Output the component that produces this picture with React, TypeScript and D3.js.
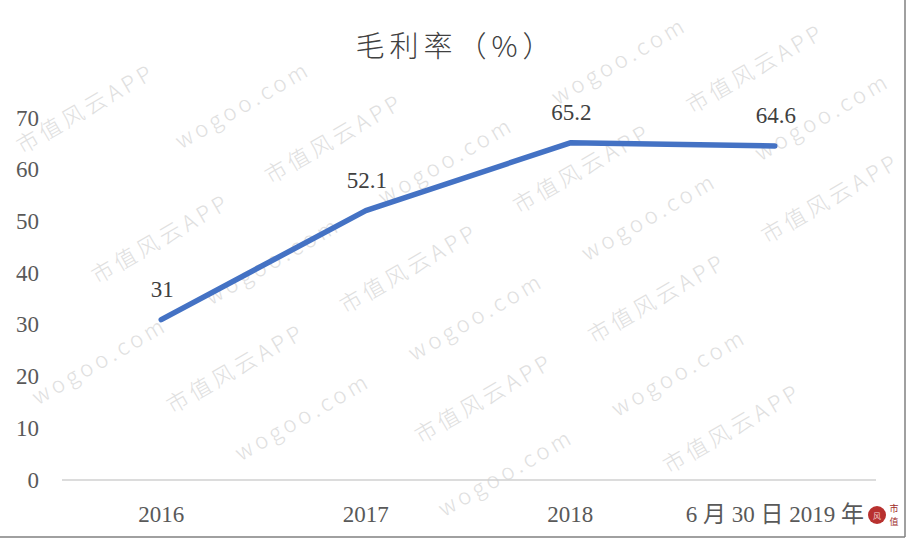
import React from "react";
import * as d3 from "d3";

const title = "毛利率（%）";
const categories = ["2016", "2017", "2018", "6 月 30 日 2019 年"];
const values = [31, 52.1, 65.2, 64.6];
const valueLabels = ["31", "52.1", "65.2", "64.6"];
const yTicks = [0, 10, 20, 30, 40, 50, 60, 70];
const watermarkTexts = ["wogoo.com", "市值风云APP"];

const W = 908;
const H = 541;

export default function App() {
  const x = d3.scalePoint<string>().domain(categories).range([59, 877]).padding(0.5);
  const y = d3.scaleLinear().domain([0, 70]).range([480, 118]);

  const line = d3
    .line<number>()
    .x((_, i) => x(categories[i]) as number)
    .y((d) => y(d));

  // watermark grid in a frame rotated by -30 degrees
  const c = Math.cos(Math.PI / 6);
  const s = Math.sin(Math.PI / 6);
  const wm: { x: number; y: number; t: string }[] = [];
  for (let k = -1; k < 14; k++) {
    const ry = 60 + 75 * k;
    const isW = ((k % 2) + 2) % 2 === 0;
    const phase = isW ? 10 + 148 * Math.floor(k / 2) : 20;
    const p = ((phase % 200) + 200) % 200;
    for (let j = -3; j < 6; j++) {
      const qx = p + 200 * j;
      const sx = c * qx + s * ry;
      const sy = -s * qx + c * ry;
      if (sx < 70 || sx > W - 70 || sy < 42 || sy > H - 60) continue;
      wm.push({ x: qx, y: ry, t: isW ? watermarkTexts[0] : watermarkTexts[1] });
    }
  }

  return (
    <div style={{ position: "fixed", left: 0, top: 0, width: W, height: H, background: "#fff" }}>
      <svg width={W} height={H} viewBox={`0 0 ${W} ${H}`} style={{ display: "block" }}>
        <rect x={0} y={0} width={W} height={H} fill="#ffffff" />
        <g
          transform="rotate(-30)"
          fill="#e0e0e0"
          fontSize={22}
          fontWeight={300}
          fontFamily="'Noto Sans CJK SC', 'DejaVu Sans', sans-serif"
          letterSpacing={4}
        >
          {wm.map((d, i) => (
            <text key={i} x={d.x} y={d.y} textAnchor="middle" dominantBaseline="central">
              {d.t}
            </text>
          ))}
        </g>
        {/* title */}
        <text
          x={456}
          y={44}
          textAnchor="middle"
          dominantBaseline="central"
          fontSize={29}
          letterSpacing={5}
          fill="#404040"
          fontFamily="'Noto Sans CJK SC', sans-serif"
          fontWeight={300}
        >
          {title}
        </text>
        {/* y tick labels */}
        {yTicks.map((t) => (
          <text
            key={t}
            x={39}
            y={y(t)}
            textAnchor="end"
            dominantBaseline="central"
            fontSize={23}
            fill="#595959"
            fontFamily="'Liberation Serif', serif"
          >
            {t}
          </text>
        ))}
        {/* baseline */}
        <line x1={62} x2={876} y1={y(0)} y2={y(0)} stroke="#d0d0d0" strokeWidth={1.5} />
        {/* x labels */}
        {categories.map((cat) => (
          <text
            key={cat}
            x={x(cat)}
            y={514}
            textAnchor="middle"
            dominantBaseline="central"
            fontSize={23}
            fill="#595959"
            fontFamily="'Liberation Serif', 'Noto Sans CJK SC', serif"
          >
            {cat}
          </text>
        ))}
        {/* line */}
        <path
          d={line(values) || ""}
          fill="none"
          stroke="#4472C4"
          strokeWidth={5.5}
          strokeLinecap="round"
          strokeLinejoin="round"
        />
        {/* data labels */}
        {values.map((v, i) => (
          <text
            key={i}
            x={(x(categories[i]) as number) + 1}
            y={y(v) - 30}
            textAnchor="middle"
            dominantBaseline="central"
            fontSize={23}
            fill="#404040"
            fontFamily="'Liberation Serif', serif"
          >
            {valueLabels[i]}
          </text>
        ))}
        {/* stamp */}
        <circle cx={877} cy={515} r={9} fill="#b8312f" />
        <text x={877} y={515} textAnchor="middle" dominantBaseline="central" fontSize={8} fill="#f3d0d0" fontFamily="'Noto Sans CJK SC', sans-serif">
          风
        </text>
        <text x={894} y={508} textAnchor="middle" dominantBaseline="central" fontSize={9} fill="#a02a2a" fontFamily="'Noto Sans CJK SC', sans-serif">
          市
        </text>
        <text x={894} y={521} textAnchor="middle" dominantBaseline="central" fontSize={9} fill="#a02a2a" fontFamily="'Noto Sans CJK SC', sans-serif">
          值
        </text>
        {/* frame edges */}
        <line x1={905} x2={905} y1={0} y2={537} stroke="#808080" strokeWidth={1.5} />
        <line x1={0} x2={905} y1={537} y2={537} stroke="#808080" strokeWidth={1.5} />
      </svg>
    </div>
  );
}
